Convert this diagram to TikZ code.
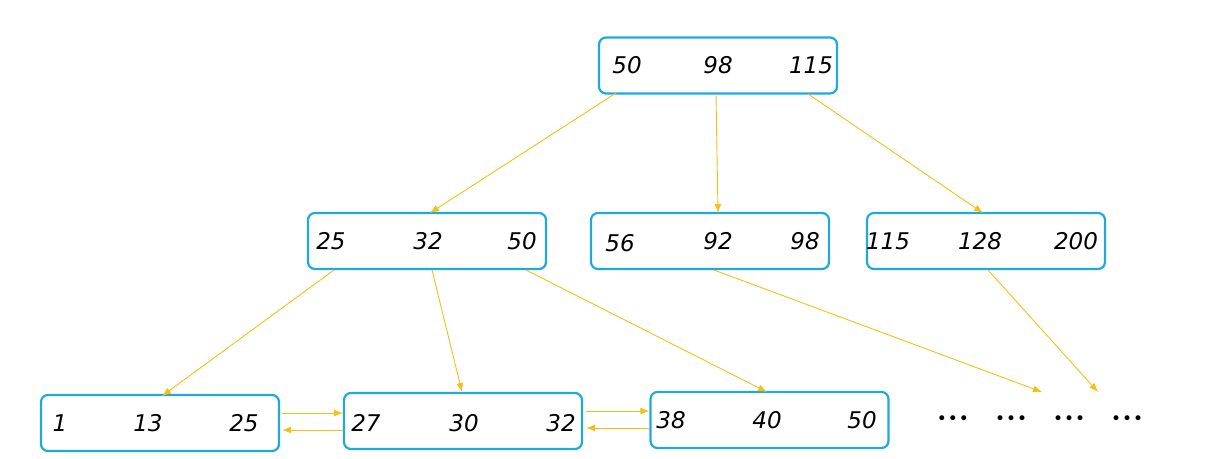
\documentclass[tikz,border=0pt]{standalone}
\usepackage{fontspec}
\setmainfont{DejaVu Sans}
\usetikzlibrary{arrows.meta}
\definecolor{bblue}{HTML}{1FA9DC}
\definecolor{arr}{HTML}{F7BE16}
\newcommand{\bdot}{\makebox[11pt]{•}}
\newcommand{\bgrp}{\bdot\bdot\bdot}
\tikzset{
  keybox/.style={draw=bblue, line width=2.2pt, rounded corners=7pt, minimum width=238pt, minimum height=56pt, inner sep=0pt},
  key/.style={font=\fontsize{23}{23}\selectfont\itshape, inner sep=0pt},
  link/.style={draw=arr, line width=0.9pt, -{Latex[length=9pt,width=7pt]}},
}
\begin{document}
\begin{tikzpicture}[x=1pt,y=-1pt]
\useasboundingbox (0,0) rectangle (1218,458);
% boxes
\node[keybox] (root) at (718,65.5) {};
\node[keybox] (A) at (427,241) {};
\node[keybox] (B) at (710,241) {};
\node[keybox] (C) at (986,241) {};
\node[keybox] (L1) at (160,423) {};
\node[keybox] (L2) at (463,421) {};
\node[keybox] (L3) at (769.5,420) {};
% texts
\node[key] (r1) at (627,65) {50};
\node[key] (r2) at (718,65) {98};
\node[key] (r3) at (811,65) {115};
\node[key] (a1) at (331,241) {25};
\node[key] (a2) at (428,241) {32};
\node[key] (a3) at (522,241) {50};
\node[key] (b1) at (620,243) {56};
\node[key] (b2) at (718,241) {92};
\node[key] (b3) at (805,241) {98};
\node[key] (c1) at (888,241) {115};
\node[key] (c2) at (980,241) {128};
\node[key] (c3) at (1076,241) {200};
\node[key] (l11) at (60,423) {1};
\node[key] (l12) at (148,423) {13};
\node[key] (l13) at (244,423) {25};
\node[key] (l21) at (366,423) {27};
\node[key] (l22) at (464,423) {30};
\node[key] (l23) at (561,423) {32};
\node[key] (l31) at (671,420) {38};
\node[key] (l32) at (767,420) {40};
\node[key] (l33) at (862,420) {50};
\node[font=\fontsize{17}{17}\selectfont, inner sep=0pt] (dots) at (1040,420) {\bgrp\hspace{25pt}\bgrp\hspace{25pt}\bgrp\hspace{25pt}\bgrp};
% coordinates for arrow ends
\coordinate (rA) at (616,93);
\coordinate (rB) at (716,94);
\coordinate (rC) at (808,94);
\coordinate (aL1) at (334,270);
\coordinate (aL2) at (432,270);
\coordinate (aL3) at (526,270);
\coordinate (bX) at (714,270);
\coordinate (cX) at (988,270);
\coordinate (tA) at (430,213);
\coordinate (tB) at (718,213);
\coordinate (tC) at (983,213);
\coordinate (tL1) at (162,396);
\coordinate (tL2) at (462,392);
\coordinate (tL3) at (767,392);
\coordinate (e1) at (1042,392);
\coordinate (e2) at (1098,392);
% arrows
\draw[link] (rA) -- (tA);
\draw[link] (rB) -- (tB);
\draw[link] (rC) -- (tC);
\draw[link] (aL1) -- (tL1);
\draw[link] (aL2) -- (tL2);
\draw[link] (aL3) -- (tL3);
\draw[link] (bX) -- (e1);
\draw[link] (cX) -- (e2);
\draw[link] ([yshift=10pt,xshift=2pt]L1.east) -- ([yshift=8pt]L2.west);
\draw[link] ([yshift=-9pt]L2.west) -- ([yshift=-7pt,xshift=2pt]L1.east);
\draw[link] ([yshift=10pt,xshift=3pt]L2.east) -- ([yshift=9pt]L3.west);
\draw[link] ([yshift=-8pt]L3.west) -- ([yshift=-7pt,xshift=3pt]L2.east);
\end{tikzpicture}
\end{document}
